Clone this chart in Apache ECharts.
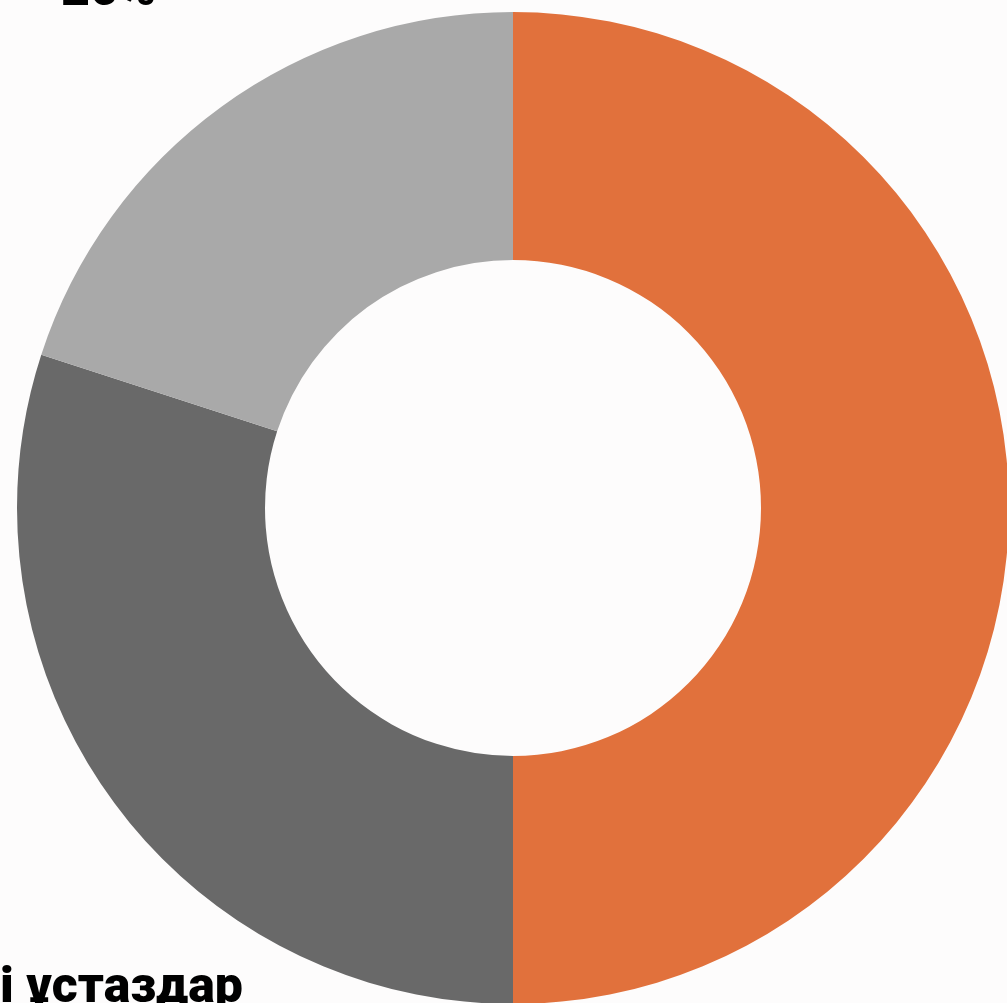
<!DOCTYPE html>
<html>
<head>
<meta charset="utf-8">
<script src="https://cdn.jsdelivr.net/npm/echarts@6/dist/echarts.min.js"></script>
<style>
  html, body { margin: 0; padding: 0; background: #fdfcfc; }
  #main { width: 1007px; height: 1003px; }
</style>
</head>
<body>
<div id="main"></div>
<script>
var names = ['Жаңа ұстаздар', 'Тәжірибелі ұстаздар', 'Жас ұстаздар'];
var values = [50, 30, 20];
var colors = ['#e1713c', '#696969', '#a9a9a9'];

// label anchor spots (outside the visible area, as in the original)
var labelSpots = [
    {x: 1100, y: 500, align: 'left', verticalAlign: 'middle'},
    {x: 243, y: 962, align: 'right', verticalAlign: 'top'},
    {x: 156, y: 19, align: 'right', verticalAlign: 'bottom'}
];

var myChart = echarts.init(document.getElementById('main'));
var option = {
    backgroundColor: '#fdfcfc',
    animation: false,
    series: [
        {
            name: 'ұстаздар',
            type: 'pie',
            center: [513, 508],
            radius: [248, 496],
            startAngle: 90,
            clockwise: true,
            label: {
                show: true,
                formatter: '{b}\n{c}%',
                fontFamily: 'Roboto',
                fontWeight: 900,
                fontSize: 50,
                lineHeight: 54,
                color: '#000',
                overflow: 'none',
                width: 800
            },
            labelLine: {show: false},
            labelLayout: function (params) {
                return labelSpots[params.dataIndex];
            },
            data: names.map(function (n, i) {
                return {name: n, value: values[i], itemStyle: {color: colors[i]}};
            })
        }
    ]
};
myChart.setOption(option);
</script>
</body>
</html>
